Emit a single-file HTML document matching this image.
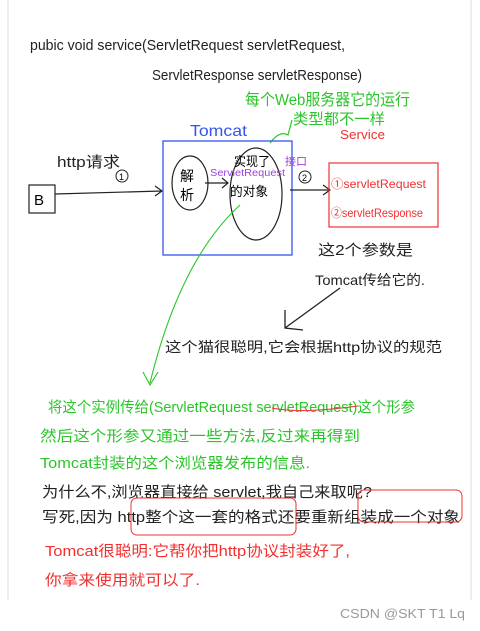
<!DOCTYPE html>
<html><head><meta charset="utf-8"><style>
html,body{margin:0;padding:0;background:#fff;}
svg{display:block}
text{font-family:"Liberation Sans","Noto Sans CJK SC",sans-serif;}
</style></head><body>
<svg width="480" height="631" viewBox="0 0 480 631" xmlns="http://www.w3.org/2000/svg">
<rect width="480" height="631" fill="#fff"/>
<line x1="8" y1="0" x2="8" y2="600" stroke="#ddd" stroke-width="1"/>
<line x1="471" y1="0" x2="471" y2="600" stroke="#ddd" stroke-width="1"/>
<g fill="#222" font-size="15">
<text x="30" y="50" textLength="315" lengthAdjust="spacingAndGlyphs">pubic void service(ServletRequest servletRequest,</text>
<text x="152" y="80" textLength="210" lengthAdjust="spacingAndGlyphs">ServletResponse servletResponse)</text>
</g>
<g fill="#2bc52b">
<text x="245" y="105" font-size="16" textLength="165" lengthAdjust="spacingAndGlyphs">每个Web服务器它的运行</text>
<text x="293" y="124" font-size="15" textLength="92" lengthAdjust="spacingAndGlyphs">类型都不一样</text>
</g>
<path d="M270 143 Q280 130 288 135 L292 120" stroke="#2bc52b" fill="none" stroke-width="1.2"/>
<text x="190" y="136" fill="#3355ee" font-size="16" textLength="57" lengthAdjust="spacingAndGlyphs">Tomcat</text>
<text x="340" y="139" fill="#f03030" font-size="13" textLength="45" lengthAdjust="spacingAndGlyphs">Service</text>
<rect x="163" y="141" width="129" height="114" fill="none" stroke="#3355ee" stroke-width="1.3"/>
<text x="57" y="167" font-size="15" fill="#222" textLength="63" lengthAdjust="spacingAndGlyphs">http请求</text>
<circle cx="122" cy="176" r="6" fill="none" stroke="#222"/><text x="119" y="180" font-size="9">1</text>
<rect x="29" y="185" width="26" height="28" fill="none" stroke="#222" stroke-width="1.2"/>
<text x="34" y="205" font-size="15">B</text>
<path d="M55 194 L162 191 M155 186 L162 191 L155 196" stroke="#222" fill="none" stroke-width="1.2"/>
<ellipse cx="190" cy="183" rx="18" ry="27" fill="none" stroke="#222" stroke-width="1.2"/>
<text x="180" y="181" font-size="14">解</text><text x="180" y="200" font-size="14">析</text>
<path d="M205 183 L228 183 M222 178 L228 183 L222 188" stroke="#222" fill="none" stroke-width="1.2"/>
<ellipse cx="256" cy="194" rx="26" ry="46" fill="none" stroke="#222" stroke-width="1.2"/>
<text x="234" y="166" font-size="13" textLength="36" lengthAdjust="spacingAndGlyphs">实现了</text>
<text x="210" y="176" font-size="10" fill="#a040e0" textLength="75" lengthAdjust="spacingAndGlyphs">ServletRequest</text>
<text x="285" y="165" font-size="11" fill="#a040e0">接口</text>
<text x="230" y="196" font-size="13" textLength="38" lengthAdjust="spacingAndGlyphs">的对象</text>
<circle cx="305" cy="177" r="6" fill="none" stroke="#222"/><text x="302" y="181" font-size="9">2</text>
<path d="M290 190 L330 190 M323 185 L330 190 L323 195" stroke="#222" fill="none" stroke-width="1.2"/>
<rect x="329" y="163" width="109" height="64" fill="none" stroke="#f03030" stroke-width="1.2"/>
<text x="331" y="188" font-size="12" fill="#f03030" textLength="95" lengthAdjust="spacingAndGlyphs">①servletRequest</text>
<text x="331" y="217" font-size="12" fill="#f03030" textLength="92" lengthAdjust="spacingAndGlyphs">②servletResponse</text>
<text x="318" y="255" font-size="15" fill="#222" textLength="95" lengthAdjust="spacingAndGlyphs">这2个参数是</text>
<text x="315" y="285" font-size="14" fill="#222" textLength="110" lengthAdjust="spacingAndGlyphs">Tomcat传给它的.</text>
<path d="M340 288 L285 328 M285 310 L285 328 L303 330" stroke="#222" fill="none" stroke-width="1.3"/>
<text x="165" y="352" font-size="14" fill="#222" textLength="277" lengthAdjust="spacingAndGlyphs">这个猫很聪明,它会根据http协议的规范</text>
<path d="M240 205 Q180 260 150 383 M143 372 L150 385 L158 372" stroke="#2bc52b" fill="none" stroke-width="1.1"/>
<g fill="#2bc52b" font-size="15">
<text x="48" y="412" textLength="367" lengthAdjust="spacingAndGlyphs">将这个实例传给(ServletRequest servletRequest)这个形参</text>
<text x="40" y="441" textLength="320" lengthAdjust="spacingAndGlyphs">然后这个形参又通过一些方法,反过来再得到</text>
<text x="40" y="468" textLength="270" lengthAdjust="spacingAndGlyphs">Tomcat封装的这个浏览器发布的信息.</text>
</g>
<path d="M272 408 Q300 414 358 406" stroke="#f03030" fill="none"/>
<g fill="#222" font-size="15">
<text x="42" y="497" textLength="330" lengthAdjust="spacingAndGlyphs">为什么不,浏览器直接给 servlet,我自己来取呢?</text>
<text x="42" y="522" textLength="418" lengthAdjust="spacingAndGlyphs">写死,因为 http整个这一套的格式还要重新组装成一个对象</text>
</g>
<rect x="131" y="498" width="165" height="37" rx="6" fill="none" stroke="#f03030"/>
<rect x="358" y="490" width="104" height="32" rx="6" fill="none" stroke="#f03030"/>
<g fill="#f03030" font-size="15">
<text x="45" y="556" textLength="305" lengthAdjust="spacingAndGlyphs">Tomcat很聪明:它帮你把http协议封装好了,</text>
<text x="45" y="585" textLength="155" lengthAdjust="spacingAndGlyphs">你拿来使用就可以了.</text>
</g>
<text x="340" y="618" font-size="13" fill="#999" textLength="125" lengthAdjust="spacingAndGlyphs">CSDN @SKT T1 Lq</text>
</svg>
</body></html>
